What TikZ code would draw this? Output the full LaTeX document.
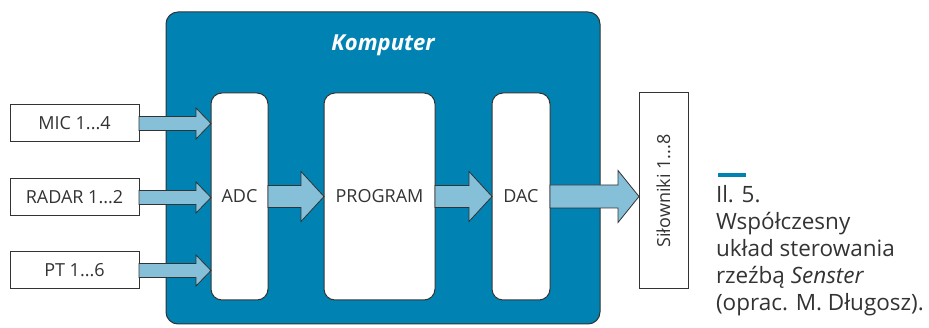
\documentclass[tikz,border=0pt]{standalone}
\usepackage{fontspec}
\setmainfont{Open Sans}
\usetikzlibrary{calc}
\definecolor{mybluei}{RGB}{0,131,179}
\definecolor{myblueii}{RGB}{134,191,216}
\definecolor{mygrey}{RGB}{51,51,51}
\tikzset{
tikzsensterpic/.style={
  x=1pt,y=-1pt
    ,inner sep=0pt
    ,outer sep=0pt
    ,line width=1pt
}
,title/.style={font={\fontsize{22}{26}\selectfont\bfseries\itshape}, color=white}
,bounder/.style={draw=mygrey,text=mygrey}
,computer/.style={bounder,rounded corners=12pt,fill=mybluei
  ,minimum width=434pt,minimum height=312pt}
,block/.style={bounder,rounded corners=11pt,fill=white
  ,minimum height=207pt,font={\fontsize{18}{22}\selectfont}}
,signal/.style={bounder,fill=white,minimum width=129pt
  ,minimum height=37pt,font={\fontsize{18}{22}\selectfont}}
,actuator/.style={bounder,fill=white,minimum width=49pt
  ,minimum height=196pt,font={\fontsize{18}{22}\selectfont}}
,fatarrow/.style={draw=mygrey,fill=myblueii,line width=.8pt,line join=miter}
,caption/.style={align=left,text=mygrey
  ,font={\fontsize{22.5}{27}\selectfont}}
}
% #1 from, #2 to, #3 half shaft, #4 half head, #5 head length
\newcommand\fatarrow[5]{%
  \draw[fatarrow] let \p1=(#1), \p2=(#2) in
    (\x1,\y1+#3) -- (\x2-#5,\y1+#3) -- (\x2-#5,\y1+#4) -- (\x2,\y1)
    -- (\x2-#5,\y1-#4) -- (\x2-#5,\y1-#3) -- (\x1,\y1-#3) -- cycle;
}

\begin{document}
\begin{tikzpicture}[tikzsensterpic]
  \useasboundingbox (0,0) rectangle (929,328);
  % computer
  \node[computer] (comp) at (383,168) {};
  \node[title] (compnm) at (383,45) {Komputer};
  \node[block,minimum width=57pt] (adc) at (239.5,196.5) {ADC};
  \node[block,minimum width=111pt] (prog) at (379.5,196.5) {PROGRAM};
  \node[block,minimum width=58pt] (dac) at (521,196.5) {DAC};
  % inputs
  \node[signal] (mic) at (74.5,123.5) {MIC 1...4};
  \node[signal] (radar) at (74.5,197.5) {RADAR 1...2};
  \node[signal] (pt) at (74.5,270.5) {PT 1...6};
  % actuators
  \node[actuator] (act) at (663.5,191) {\rotatebox{90}{Siłowniki 1...8}};
  % arrows
  \fatarrow{mic.east}{adc.west}{7pt}{15.5pt}{15pt}
  \fatarrow{radar.east}{adc.west}{7pt}{15.5pt}{15pt}
  \fatarrow{pt.east}{adc.west}{7pt}{15.5pt}{15pt}
  \fatarrow{adc.east}{prog.west}{11pt}{25pt}{23pt}
  \fatarrow{prog.east}{dac.west}{11pt}{25pt}{23pt}
  \fatarrow{dac.east}{act.west}{11.5pt}{26pt}{21pt}
  % caption
  \coordinate (dash) at (718,175);
  \draw[mybluei,line width=4pt] (dash) -- ++(28,0);
  \node[caption,anchor=north west] (capt) at (716,185)
    {Il. 5.\\Współczesny\\układ sterowania\\rzeźbą \textit{Senster}\\(oprac. M. Długosz).};
\end{tikzpicture}
\end{document}
